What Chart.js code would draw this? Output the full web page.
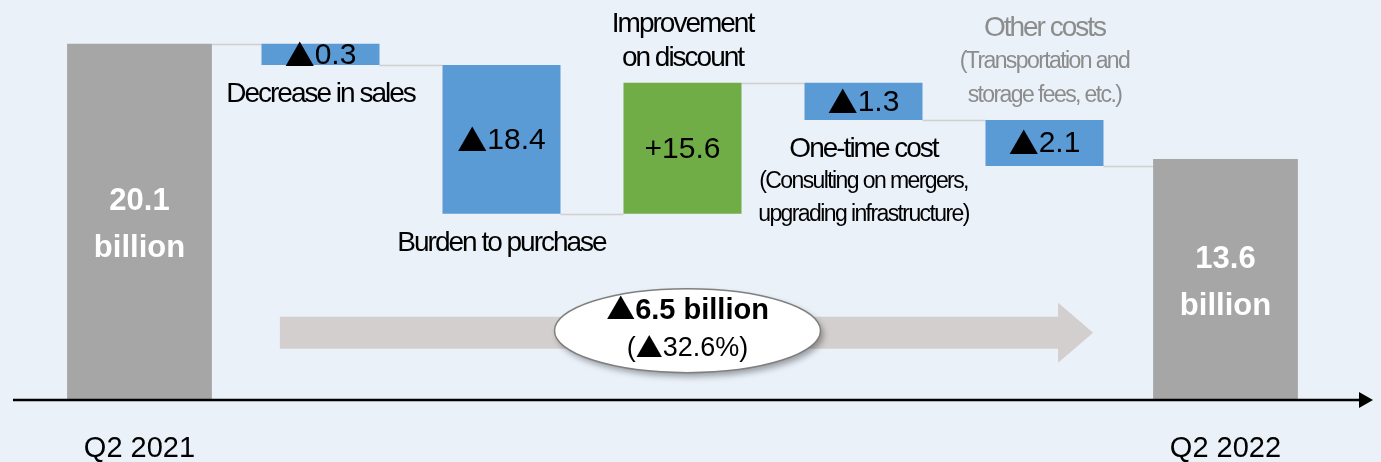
<!DOCTYPE html>
<html lang="en">
<head>
  <meta charset="UTF-8" />
  <title>Cost bridge Q2 2021 to Q2 2022</title>
  <script src="https://cdn.jsdelivr.net/npm/chart.js@4.4.0/dist/chart.umd.min.js"></script>
  <style>
    body { margin: 0; background: #eaf1f9; }
    .wrap { width: 1381px; height: 462px; }
  </style>
</head>
<body>
  <div class="wrap"><canvas id="bridge"></canvas></div>

  <script>
    // categories along the bridge
    const categories = ['Q2 2021', 'Decrease in sales', 'Burden to purchase', 'Improvement on discount',
                        'One-time cost', 'Other costs', 'Q2 2022'];
    const tickLabels = ['Q2 2021', '', '', '', '', '', 'Q2 2022'];
    // bars as drawn on the slide (schematic, not to scale): start / end level
    const barStart = [0, 20.1, 18.9, 10.5, 17.9, 15.8, 0];
    const barEnd   = [20.1, 18.9, 10.5, 17.9, 15.8, 13.2, 13.6];
    const barKind  = ['total', 'down', 'down', 'up', 'down', 'down', 'total'];
    // text shown on the bars
    const valueLabels = ['20.1\nbillion', '▲0.3', '▲18.4', '+15.6', '▲1.3', '▲2.1', '13.6\nbillion'];
    const noteTitles  = ['', 'Decrease in sales', 'Burden to purchase', 'Improvement\non discount',
                         'One-time cost', 'Other costs', ''];
    const noteDetails = ['', '', '', '', '(Consulting on mergers,\nupgrading infrastructure)',
                         '(Transportation and\nstorage fees, etc.)', ''];
    const totalChange    = '▲6.5 billion';
    const totalChangePct = '(▲32.6%)';

    const FONT = '"Liberation Sans", Arial, sans-serif';
    const MARK_FONT = '"Noto Sans CJK JP", "DejaVu Sans", sans-serif';
    const colors = { total: '#a6a6a6', down: '#5b9bd5', up: '#70ad47' };
    const noteSide = ['', 'below', 'below', 'above', 'below', 'above', ''];

    const isTotal = i => barKind[i] === 'total';
    const totalData = categories.map((c, i) => isTotal(i) ? [barStart[i], barEnd[i]] : null);
    const stepData  = categories.map((c, i) => isTotal(i) ? null : [barStart[i], barEnd[i]]);

    function getBar(chart, i) {
      return chart.getDatasetMeta(isTotal(i) ? 0 : 1).data[i];
    }

    // centred text; the ▲ mark is drawn with a full-width font like the original slide
    function say(ctx, str, x, y, size, opts = {}) {
      const weight = opts.bold ? 'bold ' : '';
      const parts = str.split(/(▲)/).filter(s => s);
      const fontOf = s => s === '▲' ? weight + size + 'px ' + MARK_FONT : weight + size + 'px ' + FONT;
      ctx.fillStyle = opts.color || '#000';
      ctx.letterSpacing = (opts.spacing || 0) + 'px';
      ctx.textAlign = 'left';
      ctx.textBaseline = 'middle';
      const widths = parts.map(s => { ctx.font = fontOf(s); return ctx.measureText(s).width; });
      let cx = x - widths.reduce((a, b) => a + b, 0) / 2;
      parts.forEach((s, k) => {
        ctx.font = fontOf(s);
        ctx.fillText(s, cx, s === '▲' ? y - size * 0.04 : y);
        cx += widths[k];
      });
    }

    const background = {
      id: 'background',
      beforeDraw(chart) {
        const ctx = chart.ctx;
        ctx.save();
        ctx.fillStyle = '#eaf1f9';
        ctx.fillRect(0, 0, chart.width, chart.height);
        ctx.restore();
      }
    };

    const bridgeDecor = {
      id: 'bridgeDecor',
      beforeDatasetsDraw(chart) {
        const ctx = chart.ctx;
        const y = chart.scales.y;
        ctx.save();
        // connectors between steps
        ctx.strokeStyle = '#d0d0d0';
        ctx.lineWidth = 1.5;
        for (let i = 0; i < categories.length - 1; i++) {
          const a = getBar(chart, i), b = getBar(chart, i + 1);
          const py = Math.round(y.getPixelForValue(barEnd[i])) + 0.5;
          ctx.beginPath();
          ctx.moveTo(a.x + a.width / 2, py);
          ctx.lineTo(b.x - b.width / 2, py);
          ctx.stroke();
        }
        ctx.restore();
      },
      afterDatasetsDraw(chart) {
        const ctx = chart.ctx;
        const area = chart.chartArea;
        const y = chart.scales.y;
        ctx.save();

        // base axis with arrow
        const ay = area.bottom;
        ctx.strokeStyle = '#000';
        ctx.lineWidth = 2.5;
        ctx.beginPath();
        ctx.moveTo(13, ay);
        ctx.lineTo(chart.width - 20, ay);
        ctx.stroke();
        ctx.fillStyle = '#000';
        ctx.beginPath();
        ctx.moveTo(chart.width - 8, ay);
        ctx.lineTo(chart.width - 22, ay - 8);
        ctx.lineTo(chart.width - 22, ay + 8);
        ctx.closePath();
        ctx.fill();

        // value labels
        categories.forEach((c, i) => {
          const b = getBar(chart, i);
          const top = Math.min(b.y, b.base), bot = Math.max(b.y, b.base);
          const cy = (top + bot) / 2;
          if (isTotal(i)) {
            const [num, unit] = valueLabels[i].split('\n');
            say(ctx, num, b.x, cy - 20, 31, { bold: true, color: '#fff' });
            say(ctx, unit, b.x, cy + 27, 31, { bold: true, color: '#fff' });
          } else {
            say(ctx, valueLabels[i], b.x, cy + 1, 30);
          }

          // notes
          if (!noteTitles[i]) return;
          const color = i === 5 ? '#8c8c8c' : '#000';
          const lines = noteTitles[i].split('\n').map(t => ({ t, size: 28, sp: -2 }))
            .concat(noteDetails[i] ? noteDetails[i].split('\n').map(t => ({ t, size: 23, sp: -1.6 })) : []);
          if (noteSide[i] === 'below') {
            lines.forEach((l, k) => say(ctx, l.t, b.x, bot + 29 + k * 33, l.size, { color, spacing: l.sp }));
          } else {
            const n = lines.length;
            lines.forEach((l, k) => say(ctx, l.t, b.x, top - 24 - (n - 1 - k) * 34, l.size, { color, spacing: l.sp }));
          }
        });

        // overall change arrow
        const first = getBar(chart, 0), last = getBar(chart, categories.length - 1);
        const cy = y.getPixelForValue(3.8);
        const x0 = first.x + first.width / 2 + 68;
        const tip = last.x - last.width / 2 - 60;
        ctx.fillStyle = '#d3cfcf';
        ctx.beginPath();
        ctx.moveTo(x0, cy - 16);
        ctx.lineTo(tip - 35, cy - 16);
        ctx.lineTo(tip - 35, cy - 30);
        ctx.lineTo(tip, cy);
        ctx.lineTo(tip - 35, cy + 30);
        ctx.lineTo(tip - 35, cy + 16);
        ctx.lineTo(x0, cy + 16);
        ctx.closePath();
        ctx.fill();

        // callout ellipse
        const ex = getBar(chart, 3).x + 5, ey = cy - 2;
        ctx.save();
        ctx.shadowColor = 'rgba(0,0,0,0.35)';
        ctx.shadowBlur = 6;
        ctx.shadowOffsetX = 3;
        ctx.shadowOffsetY = 4;
        ctx.fillStyle = '#fff';
        ctx.beginPath();
        ctx.ellipse(ex, ey, 133, 42, 0, 0, Math.PI * 2);
        ctx.fill();
        ctx.restore();
        ctx.strokeStyle = '#7f7f7f';
        ctx.lineWidth = 1.5;
        ctx.beginPath();
        ctx.ellipse(ex, ey, 133, 42, 0, 0, Math.PI * 2);
        ctx.stroke();
        say(ctx, totalChange, ex, ey - 20, 29, { bold: true });
        say(ctx, totalChangePct, ex, ey + 18, 27);

        ctx.restore();
      }
    };

    new Chart(document.getElementById('bridge'), {
      type: 'bar',
      data: {
        labels: categories,
        datasets: [
          {
            label: 'Total',
            data: totalData,
            backgroundColor: totalData.map((v, i) => colors[barKind[i]]),
            barPercentage: 0.8,
            categoryPercentage: 1,
            grouped: false
          },
          {
            label: 'Change',
            data: stepData,
            backgroundColor: stepData.map((v, i) => colors[barKind[i]]),
            barPercentage: 0.652,
            categoryPercentage: 1,
            grouped: false
          }
        ]
      },
      options: {
        responsive: true,
        maintainAspectRatio: false,
        animation: false,
        layout: { padding: { left: 49, right: 65, top: 10, bottom: 0 } },
        plugins: {
          legend: { display: false },
          tooltip: { enabled: false }
        },
        scales: {
          x: {
            grid: { display: false, drawTicks: false },
            border: { display: false },
            afterFit: scale => { scale.height = 62; },
            ticks: {
              padding: 32,
              color: '#000',
              font: { family: FONT, size: 29 },
              maxRotation: 0,
              autoSkip: false,
              callback: (v, i) => tickLabels[i]
            }
          },
          y: {
            display: false,
            min: 0,
            max: 22
          }
        }
      },
      plugins: [background, bridgeDecor]
    });
  </script>
</body>
</html>
